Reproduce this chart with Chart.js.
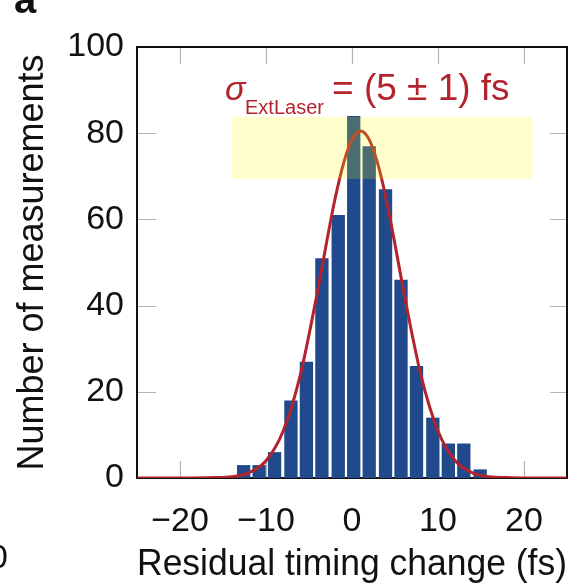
<!DOCTYPE html>
<html>
<head>
<meta charset="utf-8">
<script src="https://cdn.jsdelivr.net/npm/chart.js@4.4.1/dist/chart.umd.min.js"></script>
<style>
  html, body { margin: 0; padding: 0; background: #fff; }
  #wrap { width: 579px; height: 583px; position: relative; }
</style>
</head>
<body>
<div id="wrap"><canvas id="histo"></canvas></div>
<script>
// histogram of residual timing change, 16 bins
var binCenters = [-12.6, -10.8, -9.0, -7.1, -5.3, -3.5, -1.6, 0.2, 2.0, 3.9, 5.7, 7.5, 9.4, 11.2, 13.0, 14.9];
var binCounts = [3, 3, 6, 18, 27, 51, 61, 84, 77, 67, 46, 26, 14, 8, 8, 2];

// gaussian fit curve
var fitX = [-25, -20, -16, -14, -12, -10, -8, -6, -4, -3, -2, -1, 0, 1, 2, 3, 4, 5, 6, 8, 10, 12, 14, 16, 18, 20, 25];
var fitY = [0, 0, 0.1, 0.3, 1.2, 4.0, 10.9, 24.0, 43.4, 54.2, 64.5, 72.9, 78.5, 80.5, 78.5, 72.9, 64.5, 54.2, 43.4, 24.0, 10.9, 4.0, 1.2, 0.3, 0.1, 0, 0];

var xTicks = [-20, -10, 0, 10, 20];
var yTicks = [0, 20, 40, 60, 80, 100];

// highlighted band around the peak (data units)
var bandX = [-14.0, 21.0];
var bandY = [69.4, 83.8];

var FONT = "'Liberation Sans', Arial, Helvetica, sans-serif";
var RED = "#b3232d";
var BLUE = "#214a8c";

function minusSign(v) {
    return String(v).replace("-", "\u2212");
}

// frame + inward ticks, drawn under the bars
var framePlugin = {
    id: "frame",
    beforeDatasetsDraw: function (chart) {
        var ctx = chart.ctx;
        var a = chart.chartArea;
        var xs = chart.scales.x;
        var ys = chart.scales.y;
        ctx.save();
        ctx.strokeStyle = "#b4b4b4";
        ctx.lineWidth = 1.2;
        ctx.beginPath();
        xTicks.forEach(function (v) {
            var px = Math.round(xs.getPixelForValue(v)) + 0.5;
            ctx.moveTo(px, a.top); ctx.lineTo(px, a.top + 17);
            ctx.moveTo(px, a.bottom); ctx.lineTo(px, a.bottom - 17);
        });
        yTicks.slice(1, -1).forEach(function (v) {
            var py = Math.round(ys.getPixelForValue(v)) + 0.5;
            ctx.moveTo(a.left, py); ctx.lineTo(a.left + 19, py);
            ctx.moveTo(a.right, py); ctx.lineTo(a.right - 17, py);
        });
        ctx.stroke();
        ctx.strokeStyle = "#111";
        ctx.lineWidth = 2;
        ctx.strokeRect(a.left, a.top, a.right - a.left, a.bottom - a.top);
        ctx.restore();
    }
};

// translucent yellow band over bars and curve
var bandPlugin = {
    id: "band",
    afterDatasetsDraw: function (chart) {
        var ctx = chart.ctx;
        var xs = chart.scales.x;
        var ys = chart.scales.y;
        var x0 = xs.getPixelForValue(bandX[0]);
        var x1 = xs.getPixelForValue(bandX[1]);
        var y0 = ys.getPixelForValue(bandY[1]);
        var y1 = ys.getPixelForValue(bandY[0]);
        ctx.save();
        ctx.fillStyle = "rgba(255, 255, 0, 0.2)";
        ctx.fillRect(x0, y0, x1 - x0, y1 - y0);
        ctx.restore();
    }
};

// sigma label and the panel letters
var labelPlugin = {
    id: "labels",
    afterDraw: function (chart) {
        var ctx = chart.ctx;
        ctx.save();
        ctx.fillStyle = RED;
        ctx.textBaseline = "alphabetic";
        ctx.textAlign = "left";
        ctx.font = "italic 34px " + FONT;
        ctx.fillText("\u03c3", 225, 100);
        ctx.font = "20px " + FONT;
        ctx.fillText("ExtLaser", 245, 114);
        ctx.font = "37px " + FONT;
        ctx.fillText("= (5 \u00b1 1) fs", 332, 100);

        ctx.fillStyle = "#111";
        ctx.font = "bold 40px " + FONT;
        ctx.fillText("a", 14, 13);
        ctx.font = "34px " + FONT;
        ctx.fillText("0", -11, 568);
        ctx.restore();
    }
};

var barPoints = binCenters.map(function (c, i) { return { x: c, y: binCounts[i] }; });
var fitPoints = fitX.map(function (x, i) { return { x: x, y: fitY[i] }; });

new Chart(document.getElementById("histo"), {
    type: "bar",
    data: {
        datasets: [
            {
                type: "line",
                data: fitPoints,
                borderColor: RED,
                borderWidth: 3,
                pointRadius: 0,
                cubicInterpolationMode: "monotone",
                fill: false,
                order: 0
            },
            {
                type: "bar",
                data: barPoints,
                backgroundColor: BLUE,
                borderWidth: 0,
                barPercentage: 0.86,
                categoryPercentage: 1.0,
                order: 1
            }
        ]
    },
    options: {
        responsive: true,
        maintainAspectRatio: false,
        animation: false,
        layout: { padding: { top: 47, right: 12, bottom: 0, left: 0 } },
        plugins: {
            legend: { display: false },
            tooltip: { enabled: false }
        },
        scales: {
            x: {
                type: "linear",
                min: -25,
                max: 25,
                offset: false,
                afterBuildTicks: function (scale) {
                    scale.ticks = xTicks.map(function (v) { return { value: v }; });
                },
                afterFit: function (scale) { scale.height = 105; },
                grid: { display: false, drawTicks: false, offset: false },
                border: { display: false },
                ticks: {
                    padding: 23,
                    color: "#111",
                    font: { family: FONT, size: 34 },
                    maxRotation: 0,
                    autoSkip: false,
                    callback: function (v) { return minusSign(v); }
                },
                title: {
                    display: true,
                    text: "Residual timing change (fs)",
                    color: "#111",
                    font: { family: FONT, size: 36 },
                    padding: { top: 0, bottom: -4 }
                }
            },
            y: {
                min: 0,
                max: 100,
                afterBuildTicks: function (scale) {
                    scale.ticks = yTicks.map(function (v) { return { value: v }; });
                },
                afterFit: function (scale) { scale.width = 137; },
                grid: { display: false, drawTicks: false },
                border: { display: false },
                ticks: {
                    padding: 13,
                    color: "#111",
                    font: { family: FONT, size: 34 }
                },
                title: {
                    display: true,
                    text: "Number of measurements",
                    color: "#111",
                    font: { family: FONT, size: 36 },
                    padding: { top: 11, bottom: 0 }
                }
            }
        }
    },
    plugins: [framePlugin, bandPlugin, labelPlugin]
});
</script>
</body>
</html>
